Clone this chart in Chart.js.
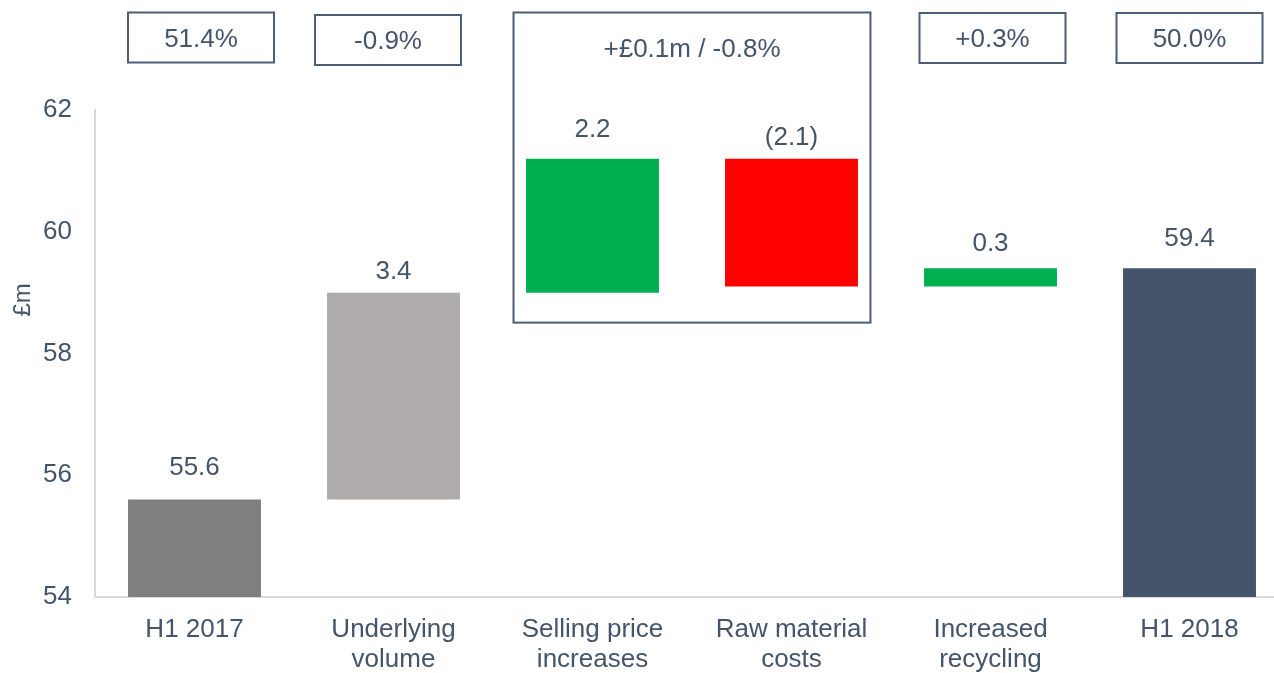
<!DOCTYPE html>
<html>
<head>
<meta charset="utf-8">
<title>Gross margin bridge H1 2017 to H1 2018</title>
<script src="https://cdn.jsdelivr.net/npm/chart.js@4.4.1/dist/chart.umd.min.js"></script>
<style>
  html, body { margin: 0; padding: 0; background: #ffffff; overflow: hidden; }
  #wrap { position: relative; width: 1300px; height: 673px; }
</style>
</head>
<body>
<div id="wrap"><canvas id="bridge"></canvas></div>
<script>
// Bridge categories (multi-line axis labels)
const categories = [
  ['H1 2017'],
  ['Underlying', 'volume'],
  ['Selling price', 'increases'],
  ['Raw material', 'costs'],
  ['Increased', 'recycling'],
  ['H1 2018']
];
// Opening total, step changes, closing total (£m)
const openingTotal = 55.6;
const steps = [3.4, 2.2, -2.1, 0.3];
const closingTotal = 59.4;
// Labels shown above each bar
const valueLabels = ['55.6', '3.4', '2.2', '(2.1)', '0.3', '59.4'];
// Margin boxes along the top; each covers a run of categories
const marginLabels = ['51.4%', '-0.9%', '+£0.1m / -0.8%', '+0.3%', '50.0%'];
const marginSpans = [[0, 0], [1, 1], [2, 3], [4, 4], [5, 5]];
// Value axis
const axisMin = 54;
const axisMax = 62;
const axisStep = 2;

const barColors = ['#7F7F7F', '#AFABAB', '#00B050', '#FF0000', '#00B050', '#44546A'];
const textColor = '#44546A';
const boxColor = '#4D5D75';
const FONT = '"Liberation Sans", Arial, sans-serif';

// Build floating [start, end] ranges for the waterfall
const ranges = [[axisMin, openingTotal]];
let running = openingTotal;
steps.forEach(s => {
  ranges.push([running, +(running + s).toFixed(2)]);
  running = +(running + s).toFixed(2);
});
ranges.push([axisMin, closingTotal]);

// Layout tweaks for the annotation layer (pixels)
const labelGap = [32, 21, 29, 21, 24, 29];       // label centre above bar top
const boxShift = [6.5, -5.5, 0, 2, 0];            // horizontal nudge of each box
const boxDrop = [0, 2.5, 0, 0.5, 0.5];            // vertical nudge of each box

// Value labels above bars, margin boxes and the unit title
const annotate = {
  id: 'annotate',
  afterDatasetsDraw(chart) {
    const ctx = chart.ctx;
    const els = chart.getDatasetMeta(0).data;
    ctx.save();
    ctx.fillStyle = textColor;
    ctx.font = '26px ' + FONT;
    ctx.textAlign = 'center';
    ctx.textBaseline = 'middle';
    els.forEach((el, i) => {
      const top = Math.min(el.y, el.base);
      ctx.fillText(valueLabels[i], el.x, top - labelGap[i]);
    });

    // Margin boxes
    const boxW = 146;
    const boxTop = 12.5;
    const boxH = 50;
    ctx.strokeStyle = boxColor;
    ctx.lineWidth = 2;
    marginSpans.forEach((span, k) => {
      const a = els[span[0]], b = els[span[1]];
      let left, right, top, bottom, ty;
      if (span[1] > span[0]) {
        left = a.x - a.width / 2 - 12.5;
        right = b.x + b.width / 2 + 12.5;
        let low = -Infinity;
        for (let j = span[0]; j <= span[1]; j++) {
          low = Math.max(low, els[j].y, els[j].base);
        }
        top = boxTop;
        bottom = low + 30;
        ty = top + 37;
      } else {
        const cx = a.x + boxShift[k];
        left = cx - boxW / 2;
        right = cx + boxW / 2;
        top = boxTop + boxDrop[k];
        bottom = top + boxH;
        ty = (top + bottom) / 2 + 2;
      }
      ctx.strokeRect(left, top, right - left, bottom - top);
      ctx.fillText(marginLabels[k], (left + right) / 2, ty);
    });

    // Unit title on the value axis
    const area = chart.chartArea;
    ctx.translate(23, area.top + (area.bottom - area.top) * 0.39);
    ctx.rotate(-Math.PI / 2);
    ctx.font = '24px ' + FONT;
    ctx.fillText('£m', 0, 0);
    ctx.restore();
  }
};

new Chart(document.getElementById('bridge'), {
  type: 'bar',
  data: {
    labels: categories,
    datasets: [{
      data: ranges,
      backgroundColor: barColors,
      borderWidth: 0,
      barPercentage: 1,
      categoryPercentage: 0.668
    }]
  },
  options: {
    responsive: true,
    maintainAspectRatio: false,
    animation: false,
    events: [],
    layout: { padding: { top: 110, right: 11, bottom: 0, left: 0 } },
    plugins: {
      legend: { display: false },
      tooltip: { enabled: false },
      title: { display: false }
    },
    scales: {
      x: {
        grid: { display: false, drawTicks: false },
        border: { display: true, color: '#D9D9D9', width: 2 },
        ticks: {
          color: textColor,
          font: { family: FONT, size: 26, lineHeight: 1.15 },
          padding: 18,
          maxRotation: 0,
          autoSkip: false
        },
        afterFit(scale) { scale.height = 76; }
      },
      y: {
        min: axisMin,
        max: axisMax,
        grid: { display: false, drawTicks: false },
        border: { display: true, color: '#D9D9D9', width: 2 },
        ticks: {
          stepSize: axisStep,
          color: textColor,
          font: { family: FONT, size: 26 },
          padding: 23
        },
        afterFit(scale) { scale.width = 95; }
      }
    }
  },
  plugins: [annotate]
});
</script>
</body>
</html>
